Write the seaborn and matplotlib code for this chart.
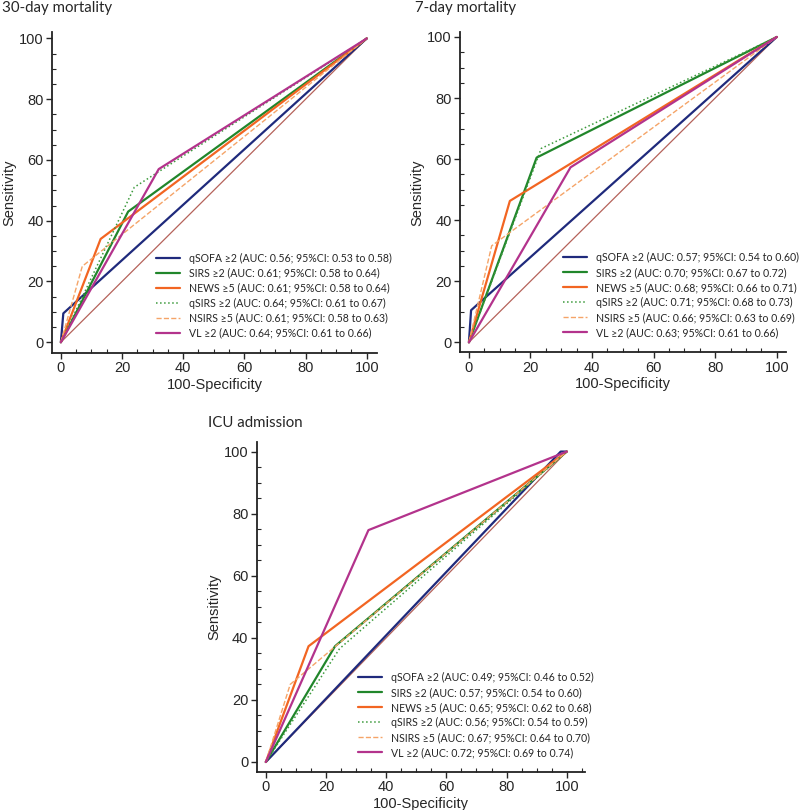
import numpy as np
import pandas as pd
import seaborn as sns
import matplotlib.pyplot as plt
from matplotlib.ticker import MultipleLocator

sns.set_style("ticks")
plt.rcParams['font.family'] = ['Liberation Sans', 'DejaVu Sans']

# scores, in legend order
scores = ['qSOFA ≥2', 'SIRS ≥2', 'NEWS ≥5', 'qSIRS ≥2', 'NSIRS ≥5', 'VL ≥2']
colors = ['#1f2a7c', '#21862b', '#f26522', '#3c9a3c', '#f5a468', '#b3338c']
styles = ['-', '-', '-', ':', '--', '-']
widths = [1.6, 1.6, 1.6, 1.1, 1.0, 1.6]

# cut point (100-specificity, sensitivity) of each score
fpr_30d = [0.8, 22, 13, 24, 7, 32]
tpr_30d = [9.5, 43, 34, 51, 25, 57]
auc_30d = ['AUC: 0.56; 95%CI: 0.53 to 0.58', 'AUC: 0.61; 95%CI: 0.58 to 0.64',
           'AUC: 0.61; 95%CI: 0.58 to 0.64', 'AUC: 0.64; 95%CI: 0.61 to 0.67',
           'AUC: 0.61; 95%CI: 0.58 to 0.63', 'AUC: 0.64; 95%CI: 0.61 to 0.66']

fpr_7d = [0.7, 22, 13.3, 23.5, 7.4, 33]
tpr_7d = [10.5, 60.5, 46.3, 63.5, 31.6, 57.3]
auc_7d = ['AUC: 0.57; 95%CI: 0.54 to 0.60', 'AUC: 0.70; 95%CI: 0.67 to 0.72',
          'AUC: 0.68; 95%CI: 0.66 to 0.71', 'AUC: 0.71; 95%CI: 0.68 to 0.73',
          'AUC: 0.66; 95%CI: 0.63 to 0.69', 'AUC: 0.63; 95%CI: 0.61 to 0.66']

fpr_icu = [98, 23, 14.2, 24.5, 8.1, 34.1]
tpr_icu = [100, 37.3, 37.3, 36.5, 25, 74.7]
auc_icu = ['AUC: 0.49; 95%CI: 0.46 to 0.52', 'AUC: 0.57; 95%CI: 0.54 to 0.60',
           'AUC: 0.65; 95%CI: 0.62 to 0.68', 'AUC: 0.56; 95%CI: 0.54 to 0.59',
           'AUC: 0.67; 95%CI: 0.64 to 0.70', 'AUC: 0.72; 95%CI: 0.69 to 0.74']

diag = [0, 100]

fig = plt.figure(figsize=(8, 8.1), dpi=100)

panels = [
    # title, fpr, tpr, auc, axes rect, xlim, ylim, title pos, legend anchor
    ('30-day mortality', fpr_30d, tpr_30d, auc_30d, [0.065, 0.564, 0.406, 0.396],
     (-2.9, 103.3), (-3.6, 102), (0.003, 0.99), (0.32, 0.045)),
    ('7-day mortality', fpr_7d, tpr_7d, auc_7d, [0.575, 0.565, 0.4075, 0.395],
     (-2.9, 103), (-3.3, 101.5), (0.519, 0.99), (0.316, 0.045)),
    ('ICU admission', fpr_icu, tpr_icu, auc_icu, [0.321, 0.047, 0.41, 0.407],
     (-3, 106), (-3.2, 103), (0.26, 0.478), (0.308, 0.042)),
]

for title, fpr, tpr, auc, rect, xl, yl, tpos, lpos in panels:
    ax = fig.add_axes(rect)
    sns.lineplot(x=diag, y=diag, ax=ax, color='#b5625a', lw=0.9)
    for i in range(len(scores)):
        df = pd.DataFrame({'x': [0, fpr[i], 100], 'y': [0, tpr[i], 100]})
        sns.lineplot(data=df, x='x', y='y', ax=ax, sort=False, estimator=None,
                     color=colors[i], linestyle=styles[i], lw=widths[i],
                     label=scores[i] + ' (' + auc[i] + ')')
    ax.set_xlim(*xl)
    ax.set_ylim(*yl)
    ax.xaxis.set_major_locator(MultipleLocator(20))
    ax.yaxis.set_major_locator(MultipleLocator(20))
    ax.xaxis.set_minor_locator(MultipleLocator(5))
    ax.yaxis.set_minor_locator(MultipleLocator(5))
    ax.tick_params(which='major', direction='out', length=4, width=1, labelsize=10.5, pad=2)
    ax.tick_params(which='minor', direction='in', length=3, width=0.8)
    sns.despine(ax=ax)
    for s in ['left', 'bottom']:
        ax.spines[s].set_linewidth(1.3)
        ax.spines[s].set_color('#222222')
    ax.set_xlabel('100-Specificity', fontsize=10.5, labelpad=2)
    ax.set_ylabel('Sensitivity', fontsize=10.5, labelpad=2)
    leg = ax.legend(loc='lower left', bbox_to_anchor=lpos, frameon=False,
                    borderaxespad=0, borderpad=0,
                    handlelength=2.3, handletextpad=0.8, labelspacing=0.38,
                    prop={'family': ['Lato', 'DejaVu Sans'], 'size': 7.6})
    fig.text(tpos[0], tpos[1], title, fontsize=10.8, va='center', ha='left',
             family=['Lato', 'DejaVu Sans'])

fig.savefig('out.png', dpi=100)
